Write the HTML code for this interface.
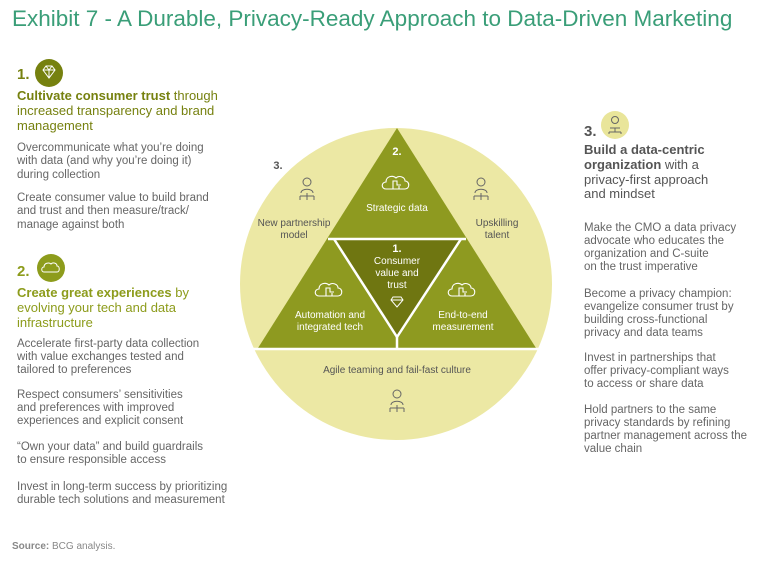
<!DOCTYPE html>
<html><head><meta charset="utf-8"><style>
body{margin:0;width:768px;height:564px;background:#fff;position:relative;overflow:hidden;font-family:"Liberation Sans",sans-serif}
.t{position:absolute;white-space:nowrap;line-height:1}
.b{font-size:11.5px;color:#666}
.h1{font-size:13px;color:#76810f}
.h2{font-size:13px;color:#8d9c1c}
.h3{font-size:13px;color:#555}
.n{font-size:15px;font-weight:bold}
</style></head><body>
<div class="t" style="left:12px;top:8px;font-size:22.5px;color:#3a9e78">Exhibit 7 - A Durable, Privacy-Ready Approach to Data-Driven Marketing</div>

<div class="t n" style="left:17px;top:67px;color:#76810f">1.</div>
<svg style="position:absolute;left:34px;top:58px" width="30" height="30"><circle cx="15" cy="15" r="14" fill="#76810f"/><path d="M9 12l3-4h6l3 4-6 8zM9 12h12M12 8l3 4 3-4M15 12v8" stroke="#fff" fill="none" stroke-width="1"/></svg>
<div class="t h1" style="left:17px;top:89px"><b>Cultivate consumer trust</b> through</div>
<div class="t h1" style="left:17px;top:104px">increased transparency and brand</div>
<div class="t h1" style="left:17px;top:119px">management</div>
<div class="t b" style="left:17px;top:143px">Overcommunicate what you’re doing</div>
<div class="t b" style="left:17px;top:156px">with data (and why you’re doing it)</div>
<div class="t b" style="left:17px;top:170px">during collection</div>
<div class="t b" style="left:17px;top:193px">Create consumer value to build brand</div>
<div class="t b" style="left:17px;top:206px">and trust and then measure/track/</div>
<div class="t b" style="left:17px;top:220px">manage against both</div>

<div class="t n" style="left:17px;top:264px;color:#8d9c1c">2.</div>
<svg style="position:absolute;left:36px;top:253px" width="30" height="30"><circle cx="15" cy="15" r="14" fill="#8d9c1c"/><path d="M8 19c-3 0-3-5 0-5 0-4 5-5 7-3 2-2 6-1 6 2 3 0 3 6 0 6z" stroke="#fff" fill="none" stroke-width="1"/></svg>
<div class="t h2" style="left:17px;top:286px"><b>Create great experiences</b> by</div>
<div class="t h2" style="left:17px;top:301px">evolving your tech and data</div>
<div class="t h2" style="left:17px;top:316px">infrastructure</div>
<div class="t b" style="left:17px;top:339px">Accelerate first-party data collection</div>
<div class="t b" style="left:17px;top:352px">with value exchanges tested and</div>
<div class="t b" style="left:17px;top:365px">tailored to preferences</div>
<div class="t b" style="left:17px;top:390px">Respect consumers’ sensitivities</div>
<div class="t b" style="left:17px;top:403px">and preferences with improved</div>
<div class="t b" style="left:17px;top:416px">experiences and explicit consent</div>
<div class="t b" style="left:17px;top:442px">“Own your data” and build guardrails</div>
<div class="t b" style="left:17px;top:455px">to ensure responsible access</div>
<div class="t b" style="left:17px;top:482px">Invest in long-term success by prioritizing</div>
<div class="t b" style="left:17px;top:495px">durable tech solutions and measurement</div>
<div class="t" style="left:12px;top:542px;font-size:10px;color:#888"><b>Source:</b> BCG analysis.</div>

<div class="t n" style="left:584px;top:124px;color:#555">3.</div>
<svg style="position:absolute;left:600px;top:110px" width="30" height="30"><circle cx="15" cy="15" r="14" fill="#e9e59a"/><circle cx="15" cy="10" r="3.5" stroke="#666" fill="none"/><path d="M10 18h10M15 18v4M9 22h12M9 22v2M21 22v2" stroke="#666" fill="none"/></svg>
<div class="t h3" style="left:584px;top:143px"><b>Build a data-centric</b></div>
<div class="t h3" style="left:584px;top:158px"><b>organization</b> with a</div>
<div class="t h3" style="left:584px;top:173px">privacy-first approach</div>
<div class="t h3" style="left:584px;top:187px">and mindset</div>
<div class="t b" style="left:584px;top:223px">Make the CMO a data privacy</div>
<div class="t b" style="left:584px;top:236px">advocate who educates the</div>
<div class="t b" style="left:584px;top:249px">organization and C-suite</div>
<div class="t b" style="left:584px;top:262px">on the trust imperative</div>
<div class="t b" style="left:584px;top:289px">Become a privacy champion:</div>
<div class="t b" style="left:584px;top:302px">evangelize consumer trust by</div>
<div class="t b" style="left:584px;top:315px">building cross-functional</div>
<div class="t b" style="left:584px;top:328px">privacy and data teams</div>
<div class="t b" style="left:584px;top:353px">Invest in partnerships that</div>
<div class="t b" style="left:584px;top:366px">offer privacy-compliant ways</div>
<div class="t b" style="left:584px;top:379px">to access or share data</div>
<div class="t b" style="left:584px;top:405px">Hold partners to the same</div>
<div class="t b" style="left:584px;top:418px">privacy standards by refining</div>
<div class="t b" style="left:584px;top:431px">partner management across the</div>
<div class="t b" style="left:584px;top:444px">value chain</div>

<svg style="position:absolute;left:0;top:0" width="768" height="564" font-family="Liberation Sans, sans-serif">
<defs>
<g id="p" stroke="#666" fill="none" stroke-width="1"><circle cx="0" cy="-8" r="4"/><path d="M-6 3c0-5 12-5 12 0M0 3v3M-7 6h14M-7 6v4M0 6v4M7 6v4"/></g>
<g id="c" stroke="#fff" fill="none" stroke-width="1.1"><path d="M-11 6c-5 0-5-7 0-7 0-6 7-7 10-4 3-3 9-1 9 3 5 0 5 8 0 8z M-4 6v-8h4v4h4M2 6v-3"/></g>
</defs>
<circle cx="396" cy="284" r="156" fill="#ece8a4"/>
<polygon points="397,128 536,348 258,348" fill="#8e9a20"/>
<polygon points="334,239 461,239 397,337" fill="#6f7611"/>
<g stroke="#fff" stroke-width="2.5" fill="none">
<line x1="328" y1="239" x2="466" y2="239"/>
<polyline points="334,239 397,337 461,239"/>
<line x1="397" y1="337" x2="397" y2="348"/>
<line x1="250" y1="349" x2="545" y2="349"/>
</g>
<g fill="#fff" font-size="10" text-anchor="middle">
<text x="397" y="155" font-size="11" font-weight="bold">2.</text>
<use href="#c" x="397" y="183"/>
<text x="397" y="211">Strategic data</text>
<text x="397" y="252" font-size="11" font-weight="bold">1.</text>
<text x="397" y="264">Consumer</text>
<text x="397" y="276">value and</text>
<text x="397" y="288">trust</text>
<path d="M391 300l2-3h8l2 3-6 7z M391 300h12" stroke="#fff" fill="none"/>
<use href="#c" x="330" y="290"/>
<text x="330" y="318">Automation and</text>
<text x="330" y="330">integrated tech</text>
<use href="#c" x="463" y="290"/>
<text x="463" y="318">End-to-end</text>
<text x="463" y="330">measurement</text>
</g>
<g fill="#555" font-size="10" text-anchor="middle">
<text x="278" y="169" font-size="11" font-weight="bold">3.</text>
<use href="#p" x="307" y="190"/>
<text x="294" y="226">New partnership</text>
<text x="294" y="238">model</text>
<use href="#p" x="481" y="190"/>
<text x="497" y="226">Upskilling</text>
<text x="497" y="238">talent</text>
<text x="397" y="373">Agile teaming and fail-fast culture</text>
<use href="#p" x="397" y="402"/>
</g>
</svg>
</body></html>
